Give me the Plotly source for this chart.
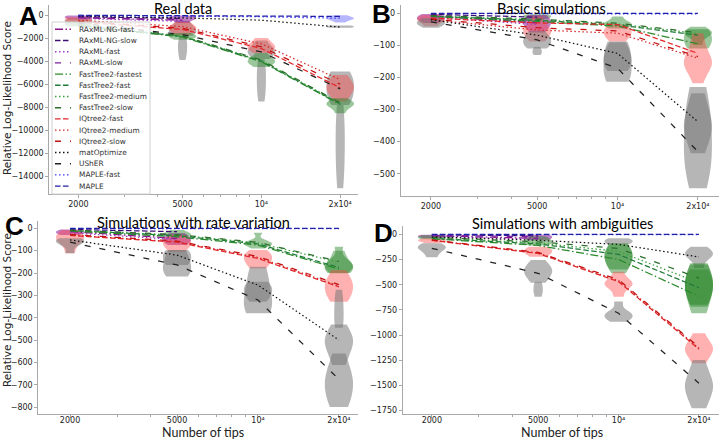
import numpy as np
import plotly.graph_objects as go

W, H = 720, 440

TIPS = [2000, 5000, 10000, 20000]
TIP_LABELS = ["2000", "5000", "10⁴", "2x10⁴"]
MINOR_TIPS = [3000, 4000, 6000, 7000, 8000, 9000]

A_YTICKS = [0, -2000, -4000, -6000, -8000, -10000, -12000, -14000]
B_YTICKS = [0, -100, -200, -300, -400, -500]
C_YTICKS = [0, -100, -200, -300, -400, -500, -600, -700, -800]
D_YTICKS = [0, -250, -500, -750, -1000, -1250, -1500, -1750]

METHODS = ["RAxML-NG-fast", "RAxML-NG-slow", "RAxML-fast", "RAxML-slow",
           "FastTree2-fastest", "FastTree2-fast", "FastTree2-medium", "FastTree2-slow",
           "IQtree2-fast", "IQtree2-medium", "IQtree2-slow",
           "matOptimize", "UShER", "MAPLE-fast", "MAPLE"]

N = None
# mean relative log-likelihood per method (rows follow METHODS), columns follow TIPS
A_LINES = [
    [-250, -450, N, N], [-150, -300, N, N], [-300, -550, N, N], [-200, -400, N, N],
    [-950, -1900, -4050, -7750], [-900, -1850, -4000, -7700], [-880, -1820, -3950, -7650], [-860, -1800, -3900, -7600],
    [-600, -1250, -2900, -6300], [-450, -1000, -2500, -5600], [-550, -1150, -2750, -6000],
    [-100, -250, -450, -1050], [-700, -1700, -3200, -6400], [-50, -100, -150, -280], [-20, -40, -60, -120],
]
B_LINES = [
    [-8, -30, N, N], [-3, -12, N, N], [-12, -35, N, N], [-6, -22, N, N],
    [-10, -25, -40, -95], [-9, -22, -36, -68], [-8, -20, -33, -63], [-7, -18, -31, -60],
    [-15, -30, -35, -125], [-20, -52, -62, -140], [-18, -45, -55, -135],
    [-20, -68, -125, -338], [-27, -83, -171, -431], [-1, -1, -2, -2], [0, 0, 0, 0],
]
C_LINES = [
    [-15, -45, N, N], [-5, -15, N, N], [-20, -50, N, N], [-10, -30, N, N],
    [-12, -38, -75, -182], [-10, -33, -70, -175], [-9, -30, -66, -152], [-8, -28, -63, -148],
    [-32, -62, -135, -262], [-30, -60, -130, -258], [-28, -57, -126, -252],
    [-52, -120, -254, -500], [-62, -164, -321, -676], [-1, -1, -1, -2], [0, 0, 0, 0],
]
D_LINES = [
    [-15, -40, N, N], [-5, -15, N, N], [-20, -50, N, N], [-10, -25, N, N],
    [-45, -110, -250, -615], [-40, -95, -200, -530], [-35, -85, -170, -480], [-30, -75, -140, -435],
    [-60, -190, -470, -1140], [-58, -185, -460, -1130], [-55, -180, -450, -1120],
    [-25, -60, -100, -225], [-139, -387, -784, -1478], [-2, -3, -3, -4], [0, 0, 0, 0],
]

# violins: (family, index into TIPS, sample values)
A_VIOLINS = [
    ("purple", 0, [-50, -150, -250, -400]),
    ("gray", 0, [-300, -500, -700, -900]),
    ("red", 0, [-200, -400, -600]),
    ("green", 0, [-600, -800, -1000]),
    ("gray", 1, [-500, -900, -1200, -1400, -1600, -1800]),
    ("gray-tail", 1, [-1800, -2300, -2800, -3300, -3900]),
    ("purple", 1, [-50, -200, -300, -400, -700]),
    ("red", 1, [-600, -900, -1100, -1200, -1400, -1700]),
    ("green", 1, [-1550, -1750, -1850, -1950, -2150]),
    ("gray", 2, [-2200, -2800, -3000, -3200, -3500, -3800]),
    ("gray-tail", 2, [-3800, -4500, -5200, -6000, -6800, -7500]),
    ("red", 2, [-2000, -2400, -2700, -2800, -3000, -3300]),
    ("green", 2, [-3300, -3700, -3900, -4050, -4200, -4500]),
    ("blue", 3, [-20, -150, -250, -300, -350, -450, -650]),
    ("gray", 3, [-900, -1000, -1100]),
    ("gray", 3, [-4900, -5300, -5800, -6300, -6800, -7300, -7800]),
    ("gray-tail", 3, [-7800, -9000, -10500, -12000, -13500, -15000]),
    ("red", 3, [-5200, -5800, -6200, -6400, -6800, -7500]),
    ("green", 3, [-7200, -7500, -7650, -7800, -8000, -8500]),
]
B_VIOLINS = [
    ("purple", 0, [-2, -10, -15, -20, -30]),
    ("red", 0, [-5, -15, -20, -25, -40]),
    ("gray", 0, [-15, -25, -30, -35, -45]),
    ("green", 1, [-3, -8, -12, -18]),
    ("purple", 1, [-5, -20, -30, -40, -60]),
    ("red", 1, [-10, -40, -50, -60, -70, -88]),
    ("gray", 1, [-55, -70, -80, -90, -100, -110]),
    ("gray-tail", 1, [-105, -115, -122, -130]),
    ("green", 2, [-10, -25, -30, -35, -40, -47]),
    ("red", 2, [-35, -50, -60, -70, -88]),
    ("gray", 2, [-90, -120, -140, -160, -180]),
    ("gray", 2, [-88, -110, -140, -170, -200, -213]),
    ("green", 3, [-42, -55, -60, -65, -75, -99]),
    ("green", 3, [-50, -70, -90, -110]),
    ("red", 3, [-62, -100, -140, -150, -160, -170, -218]),
    ("gray", 3, [-249, -300, -340, -360, -380, -436]),
    ("gray", 3, [-230, -300, -330, -400, -450, -480, -545]),
]
C_VIOLINS = [
    ("purple", 0, [-5, -15, -20, -30]),
    ("red", 0, [-8, -30, -40, -50, -70, -112]),
    ("gray", 0, [-44, -55, -60, -70, -112]),
    ("green", 1, [-8, -20, -25, -30, -37]),
    ("purple", 1, [-22, -40, -50, -60, -75]),
    ("red", 1, [-30, -55, -65, -80, -105]),
    ("gray", 1, [-97, -110, -130, -150, -164]),
    ("gray", 1, [-97, -130, -170, -190, -216]),
    ("green", 2, [-20, -55, -65, -70, -75, -90]),
    ("red", 2, [-97, -115, -130, -140, -160, -180]),
    ("gray", 2, [-239, -260, -280, -300, -329]),
    ("gray", 2, [-172, -220, -280, -330, -360, -380]),
    ("green", 3, [-82, -140, -160, -170, -180, -201]),
    ("green", 3, [-100, -150, -170, -185, -200]),
    ("red", 3, [-187, -230, -250, -270, -300, -329]),
    ("gray-tail", 3, [-275, -320, -370, -420, -445]),
    ("gray", 3, [-430, -480, -500, -520, -560, -612]),
    ("gray", 3, [-560, -640, -680, -700, -760, -800]),
]
D_VIOLINS = [
    ("purple", 0, [-5, -15, -25, -40]),
    ("green", 0, [-10, -25, -35, -50]),
    ("red", 0, [-40, -55, -60, -70, -89]),
    ("gray", 0, [-89, -120, -130, -140, -180, -228]),
    ("purple", 1, [-5, -20, -40, -60]),
    ("green", 1, [-20, -50, -70, -90, -110]),
    ("red", 1, [-123, -150, -170, -190, -222]),
    ("gray", 1, [-255, -320, -350, -380, -420, -480]),
    ("gray-tail", 1, [-470, -520, -570, -619]),
    ("gray", 2, [-40, -60, -80, -100]),
    ("green", 2, [-89, -150, -200, -250, -300, -387]),
    ("green", 2, [-100, -170, -220, -280, -350]),
    ("red", 2, [-371, -450, -480, -500, -530, -619]),
    ("gray", 2, [-668, -760, -790, -810, -830, -867]),
    ("gray", 3, [-123, -170, -190, -210, -250, -335]),
    ("green", 3, [-288, -400, -480, -550, -650, -784]),
    ("green", 3, [-350, -450, -520, -600, -720]),
    ("green", 3, [-300, -420, -500, -580, -700]),
    ("red", 3, [-982, -1080, -1120, -1150, -1200, -1280]),
    ("gray", 3, [-1247, -1400, -1480, -1520, -1600, -1726]),
]

PANEL_LETTERS = ["A", "B", "C", "D"]
PANEL_TITLES = ["Real data", "Basic simulations", "Simulations with rate variation", "Simulations with ambiguities"]
Y_TITLE = "Relative Log-Likelihood Score"
X_TITLE = "Number of tips"

# ---------------- styles ----------------
LINE_COLORS = ["#8a138a", "#3d0f73", "#9b3fc4", "#7a1f9a",
               "#2a8a2a", "#1f7a3a", "#3aa03a", "#2d6e2d",
               "#e3262b", "#d42a2a", "#c21010",
               "#111111", "#222222", "#3a3aff", "#1f1fa8"]
DOT = "1.5px,2.5px"
DASH = "5.5px,2.5px"
DASHDOT = "8px,2.5px,1.5px,2.5px"
LOOSE = "6px,9px"
LINE_DASHES = [DASHDOT, DASH, DOT, LOOSE,
               DASHDOT, DASH, DOT, LOOSE,
               DASH, DOT, LOOSE,
               DOT, LOOSE, DOT, DASH]
VIOLIN_STYLE = {
    "gray": ("rgba(115,115,115,0.52)", 0.105),
    "gray-tail": ("rgba(115,115,115,0.52)", 0.035),
    "red": ("rgba(255,70,70,0.42)", 0.105),
    "green": ("rgba(35,130,35,0.45)", 0.105),
    "purple": ("rgba(130,0,140,0.5)", 0.105),
    "blue": ("rgba(80,80,255,0.42)", 0.105),
}
AX = "#a8a8a8"


def fx(x):
    return x / W


def fy(y):
    return 1 - y / H


def tick_text(v):
    return str(v).replace("-", "\u2212")


# panel geometry (pixels): x0, x1, y0(top), y1(bottom); axis ranges; x tick label standoff
PANELS = [
    dict(box=(49.3, 358, 5, 194), xr=[3.19, 4.369], yr=[-15500, 866], yticks=A_YTICKS, so=0),
    dict(box=(400.7, 719, 5, 196), xr=[3.188, 4.38], yr=[-569.5, 25.9], yticks=B_YTICKS, so=0),
    dict(box=(38.3, 358, 221, 414), xr=[3.183, 4.372], yr=[-831, 32.7], yticks=C_YTICKS, so=-4),
    dict(box=(402.7, 719, 226, 414), xr=[3.192, 4.376], yr=[-1783, 82.3], yticks=D_YTICKS, so=-4),
]
LETTER_POS = [(28, 16), (381, 14), (14, 226), (383, 233)]
TITLE_POS = [(183, 8), (551, 8), (193, 222), (562, 223)]

xpos = np.log10(TIPS)
fig = go.Figure()

all_lines = [A_LINES, B_LINES, C_LINES, D_LINES]
all_violins = [A_VIOLINS, B_VIOLINS, C_VIOLINS, D_VIOLINS]

layout = {}
for i, p in enumerate(PANELS):
    n = i + 1
    xa = "x" if n == 1 else f"x{n}"
    ya = "y" if n == 1 else f"y{n}"
    for fam, ti, samples in all_violins[i]:
        fill, vw = VIOLIN_STYLE[fam]
        fig.add_trace(go.Violin(
            x=[xpos[ti]] * len(samples), y=samples, xaxis=xa, yaxis=ya,
            width=vw, fillcolor=fill, line=dict(width=0, color=fill),
            points=False, spanmode="hard", showlegend=False, hoverinfo="skip",
            box=dict(visible=False), meanline=dict(visible=False)))
    for m, vals in enumerate(all_lines[i]):
        fig.add_trace(go.Scatter(
            x=xpos, y=vals, xaxis=xa, yaxis=ya, mode="lines", name=METHODS[m],
            line=dict(color=LINE_COLORS[m], width=1.25, dash=LINE_DASHES[m]),
            showlegend=False, hoverinfo="skip"))
    x0, x1, y0, y1 = p["box"]
    key = "" if n == 1 else str(n)
    layout["xaxis" + key] = dict(
        domain=[fx(x0), fx(x1)], range=p["xr"], type="linear", anchor=ya,
        tickmode="array", tickvals=list(xpos), ticktext=TIP_LABELS,
        showline=True, linecolor=AX, linewidth=1, ticks="outside", ticklen=2.5, tickcolor=AX,
        ticklabelstandoff=p["so"],
        tickfont=dict(family="DejaVu Sans", size=8, color="#222"),
        showgrid=False, zeroline=False, automargin=False,
        minor=dict(tickmode="array", tickvals=list(np.log10(MINOR_TIPS)), ticks="outside",
                   ticklen=2, tickcolor=AX, showgrid=False))
    layout["yaxis" + key] = dict(
        domain=[fy(y1), fy(y0)], range=p["yr"], anchor=xa,
        tickmode="array", tickvals=p["yticks"], ticktext=[tick_text(v) for v in p["yticks"]],
        showline=True, linecolor=AX, linewidth=1, ticks="outside", ticklen=3, tickcolor=AX,
        tickfont=dict(family="DejaVu Sans", size=8, color="#222"),
        showgrid=False, zeroline=False, automargin=False)

annotations = []
for i in range(4):
    lx, ly = LETTER_POS[i]
    annotations.append(dict(x=fx(lx), y=fy(ly), xref="paper", yref="paper", text=f"<b>{PANEL_LETTERS[i]}</b>",
                            showarrow=False, xanchor="center", yanchor="middle",
                            font=dict(family="Liberation Sans", size=26, color="black")))
    tx, ty = TITLE_POS[i]
    annotations.append(dict(x=fx(tx), y=fy(ty), xref="paper", yref="paper", text=PANEL_TITLES[i],
                            showarrow=False, xanchor="center", yanchor="middle",
                            font=dict(family="Lato", size=14.5, color="black")))
for yc in (98, 310):
    annotations.append(dict(x=fx(7), y=fy(yc), xref="paper", yref="paper", text=Y_TITLE, textangle=-90,
                            showarrow=False, xanchor="center", yanchor="middle",
                            font=dict(family="DejaVu Sans", size=10.5, color="#222")))
for xc in (203, 562):
    annotations.append(dict(x=fx(xc), y=fy(432.5), xref="paper", yref="paper", text=X_TITLE,
                            showarrow=False, xanchor="center", yanchor="middle",
                            font=dict(family="Lato", size=12.5, color="#222")))

# legend drawn inside panel A
shapes = [dict(type="rect", xref="paper", yref="paper", x0=fx(52), x1=fx(150), y0=fy(194), y1=fy(22),
               fillcolor="rgba(255,255,255,0.82)", line=dict(color="#d0d0d0", width=1), layer="above")]
for m, name in enumerate(METHODS):
    yy = 29.3 + m * 11.2
    shapes.append(dict(type="line", xref="paper", yref="paper", x0=fx(55), x1=fx(71), y0=fy(yy), y1=fy(yy),
                       line=dict(color=LINE_COLORS[m], width=1.4, dash=LINE_DASHES[m]), layer="above"))
    annotations.append(dict(x=fx(77), y=fy(yy), xref="paper", yref="paper", text=name, showarrow=False,
                            xanchor="left", yanchor="middle",
                            font=dict(family="DejaVu Sans", size=7.4, color="#333")))

fig.update_layout(**layout)
fig.update_layout(width=W, height=H, margin=dict(l=0, r=0, t=0, b=0, autoexpand=False),
                  paper_bgcolor="white", plot_bgcolor="white", violinmode="overlay",
                  showlegend=False, annotations=annotations, shapes=shapes)
fig.write_html("out.html", config={"displayModeBar": False, "staticPlot": True},
               post_script="document.body.style.margin='0px';document.body.style.padding='0px';")
